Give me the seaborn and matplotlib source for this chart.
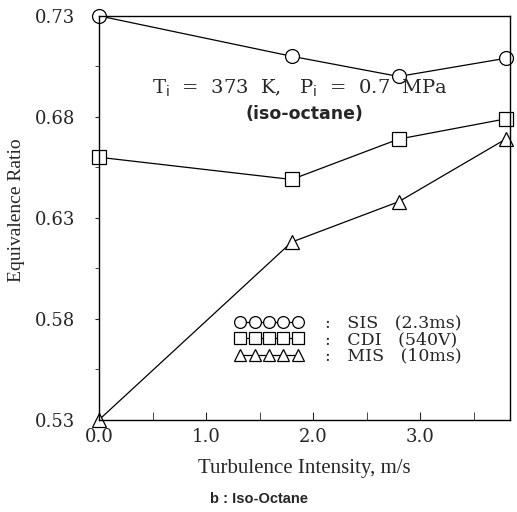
import matplotlib
matplotlib.use("Agg")
import matplotlib.pyplot as plt
import seaborn as sns
import pandas as pd
from matplotlib.lines import Line2D
from matplotlib.ticker import MultipleLocator, FixedLocator, FormatStrFormatter

sns.set_style("ticks")
plt.rcParams["font.family"] = ["Liberation Serif", "DejaVu Serif"]

# values
turbulence = [0.0, 1.8, 2.8, 3.8]
sis = [0.730, 0.710, 0.700, 0.709]
cdi = [0.660, 0.649, 0.669, 0.679]
mis = [0.530, 0.618, 0.638, 0.669]
series_labels = ["SIS  (2.3ms)", "CDI  (540V)", "MIS  (10ms)"]
series_markers = ["o", "s", "^"]
y_ticks = [0.53, 0.58, 0.63, 0.68, 0.73]
y_minor = [0.555, 0.605, 0.655, 0.705]

df = pd.concat([
    pd.DataFrame({"x": turbulence, "y": vals, "series": name})
    for name, vals in zip(series_labels, [sis, cdi, mis])
])

fig = plt.figure(figsize=(5.17, 5.12), dpi=100)
ax = fig.add_axes([0.1915, 0.18, 0.795, 0.789])

for name, mk in zip(series_labels, series_markers):
    sub = df[df["series"] == name]
    sns.lineplot(data=sub, x="x", y="y", ax=ax, color="black", lw=0.9,
                 marker=mk, markersize=10, markerfacecolor="white",
                 markeredgecolor="black", markeredgewidth=0.9, clip_on=False)

ax.set_xlim(0, 3.84)
ax.set_ylim(0.53, 0.73)
ax.xaxis.set_major_locator(MultipleLocator(1.0))
ax.xaxis.set_minor_locator(MultipleLocator(0.5))
ax.yaxis.set_major_locator(FixedLocator(y_ticks))
ax.yaxis.set_minor_locator(FixedLocator(y_minor))
ax.xaxis.set_major_formatter(FormatStrFormatter("%.1f"))
ax.yaxis.set_major_formatter(FormatStrFormatter("%.2f"))
ax.tick_params(axis="x", which="both", direction="in", length=6, labelsize=13, pad=6)
ax.tick_params(axis="y", which="both", direction="out", length=3, labelsize=13, pad=14)
for lab in ax.get_xticklabels() + ax.get_yticklabels():
    lab.set_family("DejaVu Serif")
for s in ax.spines.values():
    s.set_linewidth(1.0)
    s.set_color("black")

ax.set_xlabel("Turbulence Intensity, m/s", fontsize=15, labelpad=9)
ax.set_ylabel("Equivalence Ratio", fontsize=14)
ax.yaxis.set_label_coords(-0.18, 0.52)

ax.text(0.49, 0.82, r"T$_\mathrm{i}$  =  373  K,   P$_\mathrm{i}$  =  0.7  MPa",
        transform=ax.transAxes, ha="center", va="center", fontsize=14,
        family="DejaVu Serif")
ax.text(0.5, 0.757, "(iso-octane)", transform=ax.transAxes, ha="center",
        va="center", fontsize=12.5, fontweight="bold", family="DejaVu Sans")

handles = [Line2D([0], [0], color="black", lw=0.9, marker=mk, markersize=8.5,
                  markerfacecolor="white", markeredgecolor="black",
                  markeredgewidth=0.9)
           for mk in series_markers]
ax.legend(handles, [":   " + l.replace("  ", "   ") for l in series_labels],
          loc="upper left", bbox_to_anchor=(0.31, 0.28), numpoints=5,
          handlelength=3.9, frameon=False,
          prop={"family": "DejaVu Serif", "size": 12.5},
          labelspacing=-0.05, handletextpad=1.3, borderpad=0)

fig.text(0.5, 0.017, "b : Iso-Octane", ha="center", fontsize=10.5,
         fontweight="bold", family=["Liberation Sans", "DejaVu Sans"])

fig.savefig("out.png", dpi=100)
